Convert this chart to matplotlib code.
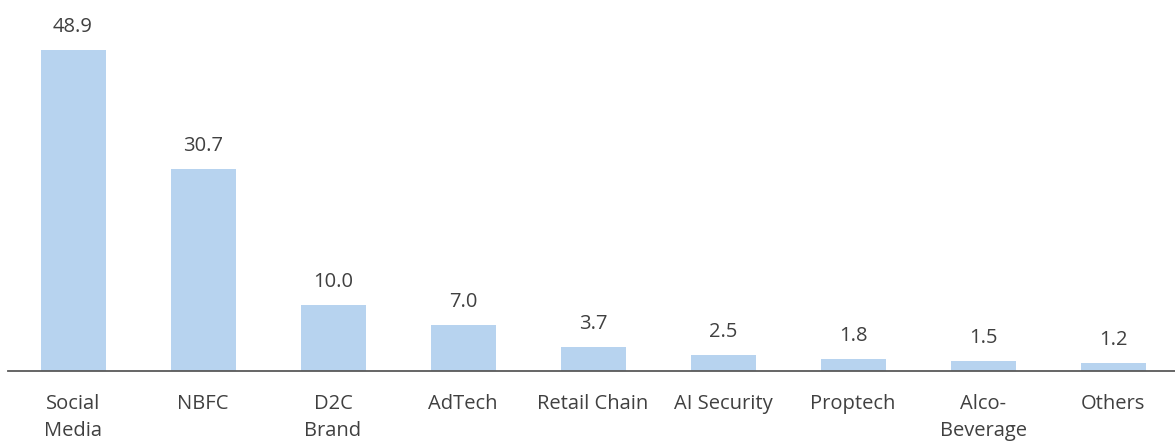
import matplotlib.pyplot as plt

categories = ['Social\nMedia', 'NBFC', 'D2C\nBrand', 'AdTech', 'Retail Chain',
              'AI Security', 'Proptech', 'Alco-\nBeverage', 'Others']
values = [48.9, 30.7, 10.0, 7.0, 3.7, 2.5, 1.8, 1.5, 1.2]

plt.rcParams['font.family'] = ['Open Sans', 'DejaVu Sans']

fig = plt.figure(figsize=(11.75, 4.42), dpi=100)
ax = fig.add_axes([8 / 1175, 1 - 371 / 442, 1170 / 1175, 371 / 442])

x = range(len(values))
ax.bar(x, values, width=0.5, color='#b7d3ef')
for i, v in zip(x, values):
    ax.annotate(f'{v:.1f}', (i, v), xytext=(0, 16.5), textcoords='offset points',
                ha='center', va='center', fontsize=14.5, color='#404040')

ax.set_xlim(-0.5, len(values) - 0.5)
ax.set_ylim(0, 56.5)
ax.set_xticks(list(x))
ax.set_xticklabels(categories, fontsize=14.5, color='#404040', linespacing=1.45)
ax.tick_params(axis='x', length=0, pad=16.5)
ax.set_yticks([])
for s in ['top', 'right', 'left']:
    ax.spines[s].set_visible(False)
ax.spines['bottom'].set_color('#595959')
ax.spines['bottom'].set_linewidth(1.3)

fig.savefig('out.png', dpi=100)
